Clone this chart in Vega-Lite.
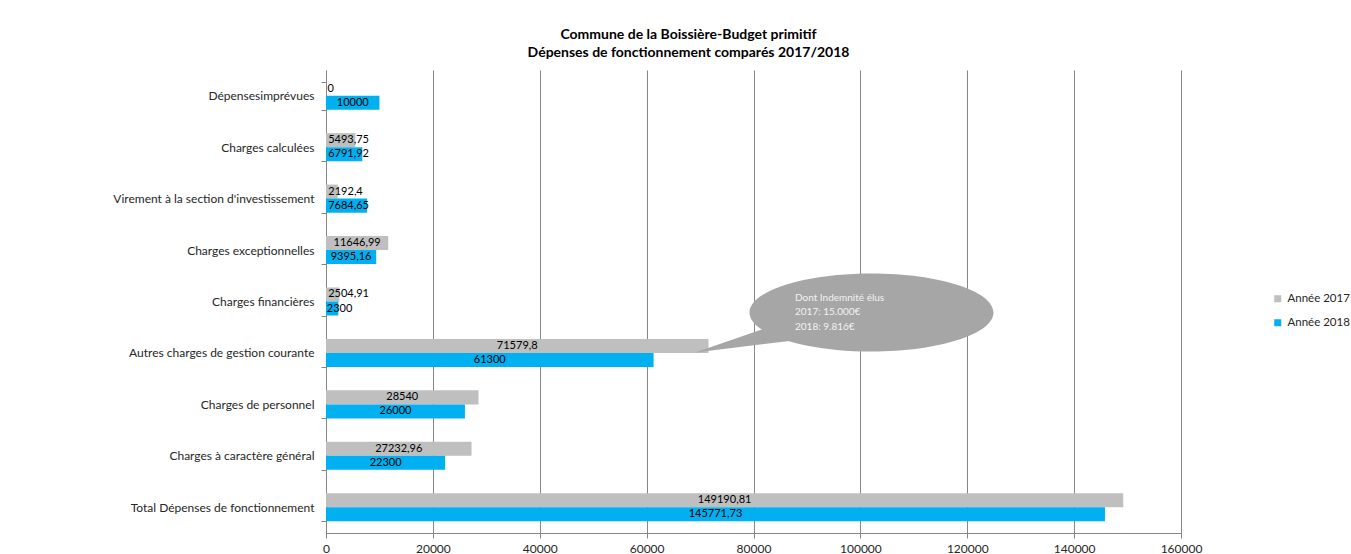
{
  "$schema": "https://vega.github.io/schema/vega-lite/v6.json",
  "width": 855,
  "height": 463,
  "autosize": {"type": "none"},
  "padding": {"left": 326, "top": 70, "right": 170, "bottom": 21},
  "background": "white",
  "title": {
    "text": ["Commune de la Boissière-Budget primitif", "Dépenses de fonctionnement comparés 2017/2018"],
    "font": "Lato",
    "fontSize": 14,
    "fontWeight": "bold",
    "color": "#000000",
    "anchor": "middle",
    "dx": -65,
    "dy": 2,
    "lineHeight": 18,
    "offset": 6
  },
  "data": {
    "values": [
      {"category": "Dépensesimprévues", "year": "Année 2017", "value": 0},
      {"category": "Dépensesimprévues", "year": "Année 2018", "value": 10000},
      {"category": "Charges calculées", "year": "Année 2017", "value": 5493.75},
      {"category": "Charges calculées", "year": "Année 2018", "value": 6791.92},
      {"category": "Virement à la section d'investissement", "year": "Année 2017", "value": 2192.4},
      {"category": "Virement à la section d'investissement", "year": "Année 2018", "value": 7684.65},
      {"category": "Charges exceptionnelles", "year": "Année 2017", "value": 11646.99},
      {"category": "Charges exceptionnelles", "year": "Année 2018", "value": 9395.16},
      {"category": "Charges financières", "year": "Année 2017", "value": 2504.91},
      {"category": "Charges financières", "year": "Année 2018", "value": 2300},
      {"category": "Autres charges de gestion courante", "year": "Année 2017", "value": 71579.8},
      {"category": "Autres charges de gestion courante", "year": "Année 2018", "value": 61300},
      {"category": "Charges de personnel", "year": "Année 2017", "value": 28540},
      {"category": "Charges de personnel", "year": "Année 2018", "value": 26000},
      {"category": "Charges à caractère général", "year": "Année 2017", "value": 27232.96},
      {"category": "Charges à caractère général", "year": "Année 2018", "value": 22300},
      {"category": "Total Dépenses de fonctionnement", "year": "Année 2017", "value": 149190.81},
      {"category": "Total Dépenses de fonctionnement", "year": "Année 2018", "value": 145771.73}
    ]
  },
  "encoding": {
    "y": {
      "field": "category",
      "type": "nominal",
      "sort": ["Dépensesimprévues", "Charges calculées", "Virement à la section d'investissement", "Charges exceptionnelles", "Charges financières", "Autres charges de gestion courante", "Charges de personnel", "Charges à caractère général", "Total Dépenses de fonctionnement"],
      "scale": {"paddingInner": 0.455, "paddingOuter": 0.2275},
      "axis": {
        "title": null,
        "tickBand": "extent",
        "ticks": true,
        "tickSize": 5,
        "tickColor": "#868686",
        "domainColor": "#868686",
        "labelFont": "Lato",
        "labelFontSize": 12,
        "labelColor": "#262626",
        "labelPadding": 7,
        "labelLimit": 320,
        "grid": false
      }
    }
  },
  "layer": [
    {
      "mark": {"type": "bar"},
      "encoding": {
        "yOffset": {"field": "year", "type": "nominal", "sort": ["Année 2017", "Année 2018"], "scale": {"paddingInner": 0, "paddingOuter": 0}},
        "x": {
          "field": "value",
          "type": "quantitative",
          "scale": {"domain": [0, 160000], "nice": false},
          "axis": {
            "title": null,
            "values": [0, 20000, 40000, 60000, 80000, 100000, 120000, 140000, 160000],
            "format": "d",
            "grid": true,
            "gridColor": "#868686",
            "gridWidth": 1,
            "domainColor": "#868686",
            "tickColor": "#868686",
            "tickSize": 5,
            "labelFont": "Lato",
            "labelFontSize": 12,
            "labelColor": "#262626",
            "labelPadding": 5,
            "labelFlush": false
          }
        },
        "color": {
          "field": "year",
          "type": "nominal",
          "scale": {"domain": ["Année 2017", "Année 2018"], "range": ["#bfbfbf", "#00b0f0"]},
          "legend": {
            "title": null,
            "orient": "none",
            "legendX": 946,
            "legendY": 223,
            "padding": 0,
            "symbolType": "square",
            "symbolSize": 49,
            "symbolStrokeWidth": 0,
            "labelFont": "Lato",
            "labelFontSize": 11.5,
            "labelColor": "#262626",
            "labelOffset": 4,
            "rowPadding": 11
          }
        }
      }
    },
    {
      "transform": [
        {"calculate": "max(datum.value / 2, length(format(datum.value, '~f')) * 560 + 300)", "as": "labelx"}
      ],
      "mark": {"type": "text", "font": "Lato", "fontSize": 11, "color": "#000000", "align": "center", "baseline": "middle"},
      "encoding": {
        "yOffset": {"field": "year", "type": "nominal", "sort": ["Année 2017", "Année 2018"]},
        "x": {"field": "labelx", "type": "quantitative"},
        "text": {"field": "value", "type": "quantitative", "format": "~f"}
      }
    },
    {
      "data": {"values": [{"note": "callout"}]},
      "mark": {
        "type": "point",
        "shape": "M -1.22 0.11 A 1.22 0.39 0 1 1 1.22 0.11 A 1.22 0.39 0 1 1 -1.22 0.11 Z M -1.07 0.27 L -0.78 0.39 L -1.765 0.51 Z",
        "size": 40000,
        "filled": true,
        "color": "#a6a6a6",
        "opacity": 1,
        "strokeWidth": 0
      },
      "encoding": {
        "x": {"datum": 102082, "type": "quantitative"},
        "y": {"datum": "Charges financières", "type": "nominal"}
      }
    },
    {
      "data": {"values": [{"note": "callout"}]},
      "mark": {
        "type": "text",
        "text": ["Dont Indemnité élus", "2017: 15.000€", "2018: 9.816€"],
        "font": "Lato",
        "fontSize": 10,
        "color": "#f2f2f2",
        "align": "left",
        "baseline": "middle",
        "lineHeight": 14.5,
        "dy": -4
      },
      "encoding": {
        "x": {"datum": 87766, "type": "quantitative"},
        "y": {"datum": "Charges financières", "type": "nominal"}
      }
    }
  ],
  "config": {
    "view": {"stroke": null},
    "font": "Lato",
    "locale": {"number": {"decimal": ",", "thousands": " ", "grouping": [3], "currency": ["", "€"]}}
  }
}
